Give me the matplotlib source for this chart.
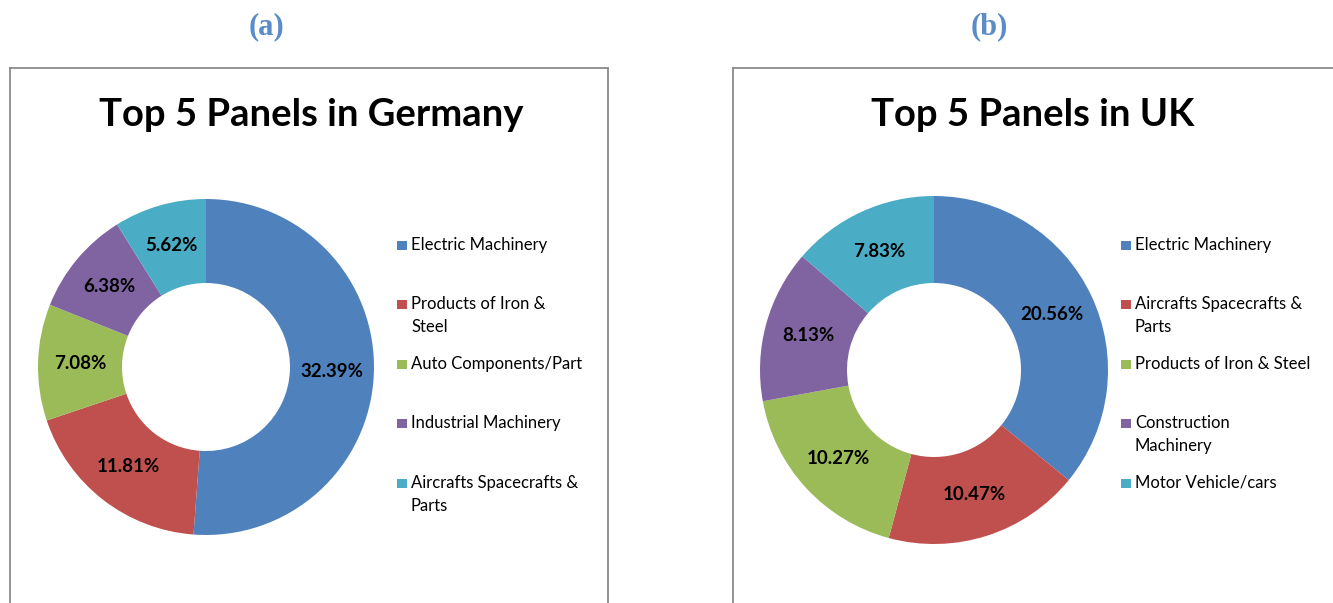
import matplotlib
matplotlib.use("Agg")
import matplotlib.pyplot as plt
from matplotlib.patches import Rectangle
from matplotlib.lines import Line2D

W, H = 1333, 603
FONT = "Lato"

# ---------------- data ----------------
panel_tags = ["(a)", "(b)"]
titles = ["Top 5 Panels in Germany", "Top 5 Panels in UK"]

germany_labels = ["Electric Machinery", "Products of Iron &\nSteel", "Auto Components/Part",
                  "Industrial Machinery", "Aircrafts Spacecrafts &\nParts"]
germany_values = [32.39, 11.81, 7.08, 6.38, 5.62]

uk_labels = ["Electric Machinery", "Aircrafts Spacecrafts &\nParts", "Products of Iron & Steel",
             "Construction\nMachinery", "Motor Vehicle/cars"]
uk_values = [20.56, 10.47, 10.27, 8.13, 7.83]

colors = ["#4F81BD", "#C0504D", "#9BBB59", "#8064A2", "#4BACC6"]

# ---------------- layout (pixels) ----------------
panels = [
    dict(labels=germany_labels, values=germany_values, cx=206, cy=367, R=168,
         tag_x=266, title_x=311, box=(10, 608), leg_x=397),
    dict(labels=uk_labels, values=uk_values, cx=934, cy=370, R=174,
         tag_x=989, title_x=1033, box=(733, 1340), leg_x=1121),
]
leg_y = [245, 304, 364, 423, 483]
line_gap = 23

fig = plt.figure(figsize=(W / 100, H / 100), dpi=100)

def fx(px):
    return px / W

def fy(py):
    return 1 - py / H

for i, p in enumerate(panels):
    # panel box (left, top, right lines)
    x0, x1 = p["box"]
    fig.add_artist(Line2D([fx(x0), fx(x0)], [fy(68), fy(H + 5)], color="#8a8a8a", lw=1.3,
                          transform=fig.transFigure))
    fig.add_artist(Line2D([fx(x1), fx(x1)], [fy(68), fy(H + 5)], color="#8a8a8a", lw=1.3,
                          transform=fig.transFigure))
    fig.add_artist(Line2D([fx(x0), fx(x1)], [fy(68), fy(68)], color="#8a8a8a", lw=1.3,
                          transform=fig.transFigure))

    # tag
    fig.text(fx(p["tag_x"]), fy(27), panel_tags[i], ha="center", va="center",
             fontsize=22, fontweight="bold", family="Liberation Serif", color="#5B8BC8")
    # title
    fig.text(fx(p["title_x"]), fy(115), titles[i], ha="center", va="center",
             fontsize=27.5, fontweight="bold", family=FONT, color="black")

    # donut
    R = p["R"]
    ax = fig.add_axes([fx(p["cx"] - R), fy(p["cy"] + R), 2 * R / W, 2 * R / H])
    wedges, texts, autotexts = ax.pie(
        p["values"], colors=colors, startangle=90, counterclock=False, radius=1,
        autopct=lambda v: "", pctdistance=0.75,
        wedgeprops=dict(width=0.5, linewidth=0))
    for at, v in zip(autotexts, p["values"]):
        at.set_text(f"{v:.2f}%")
        at.set_fontsize(13.5)
        at.set_fontweight("bold")
        at.set_family(FONT)
        at.set_color("black")
    ax.set_xlim(-1, 1)
    ax.set_ylim(-1, 1)
    ax.set_aspect("auto")
    ax.axis("off")

    # legend
    lx = p["leg_x"]
    for j, lab in enumerate(p["labels"]):
        y = leg_y[j]
        fig.add_artist(Rectangle((fx(lx), fy(y + 5)), 9.5 / W, 9.5 / H,
                                 facecolor=colors[j], edgecolor="none",
                                 transform=fig.transFigure))
        for k, line in enumerate(lab.split("\n")):
            fig.text(fx(lx + 14), fy(y + k * line_gap), line, ha="left", va="center",
                     fontsize=12, family=FONT, color="black")

fig.savefig("out.png", dpi=100, facecolor="white")
